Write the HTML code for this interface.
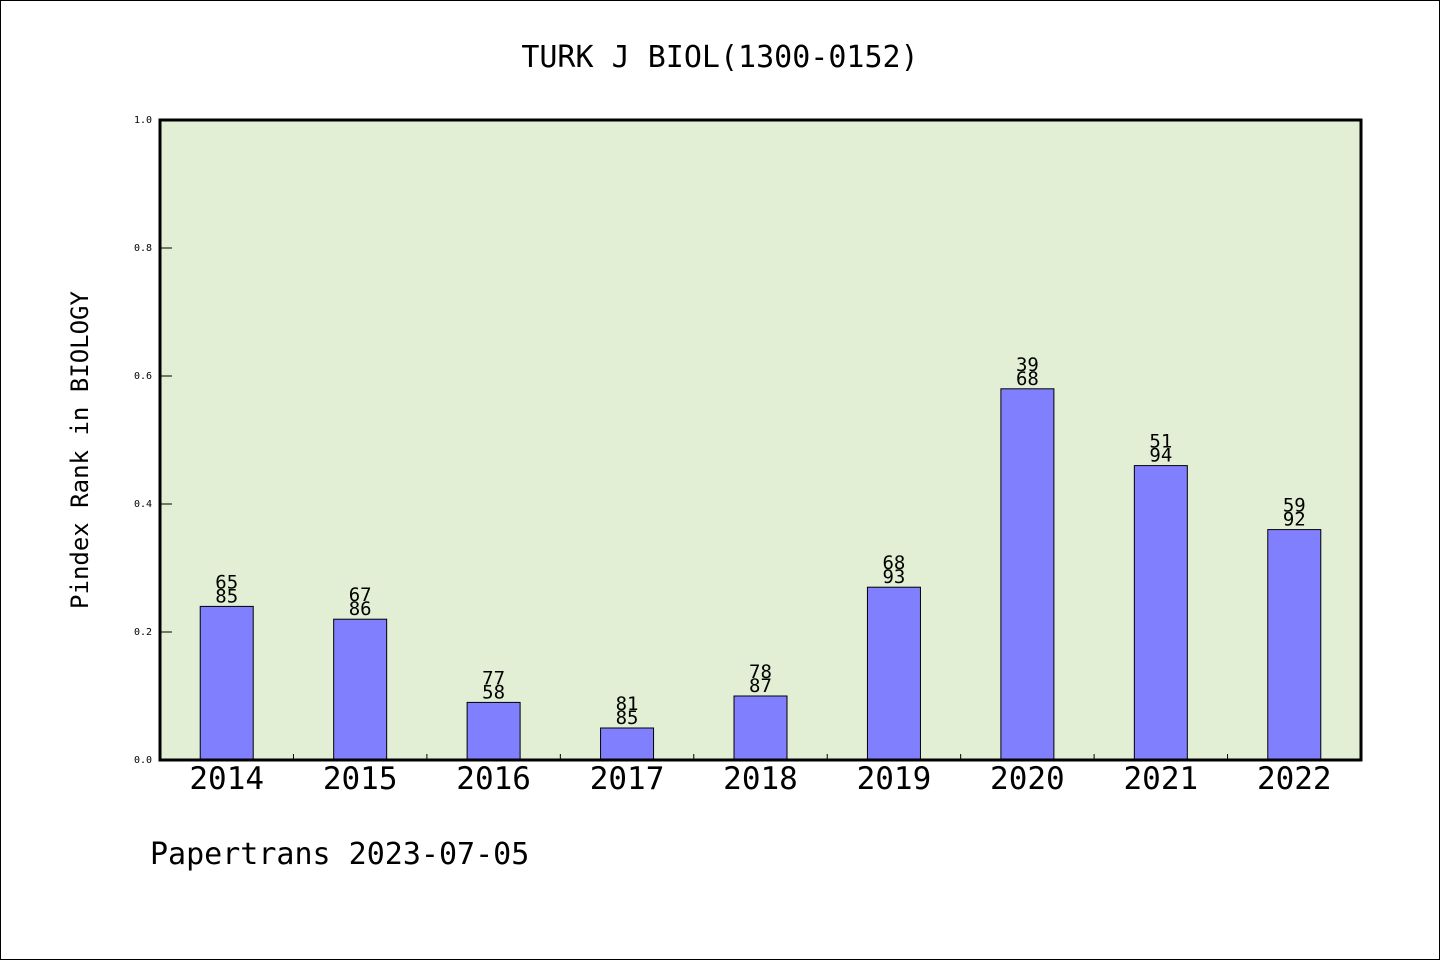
<!DOCTYPE html>
<html><head><meta charset="utf-8"><style>
body{margin:0;background:#fff}
svg text{font-family:"WenQuanYi Zen Hei","DejaVu Sans Mono",monospace}
</style></head><body>
<svg width="1440" height="960">
<rect x="0.5" y="0.5" width="1439" height="959" fill="#fff" stroke="#000"/>
<text x="720" y="67" font-size="30" text-anchor="middle">TURK J BIOL(1300-0152)</text>
<rect x="160" y="120" width="1201" height="640" fill="#e2efd5"/>
<g id="g"></g>
<rect x="160" y="120" width="1201" height="640" fill="none" stroke="#000" stroke-width="3"/>
<text transform="translate(88,450) rotate(-90)" font-size="24" text-anchor="middle">Pindex Rank in BIOLOGY</text>
<text x="150" y="864" font-size="30">Papertrans 2023-07-05</text>
</svg>
<script>
const years=["2014","2015","2016","2017","2018","2019","2020","2021","2022"];
const values=[0.24,0.22,0.09,0.05,0.10,0.27,0.58,0.46,0.36];
const topLabels=["65","67","77","81","78","68","39","51","59"];
const bottomLabels=["85","86","58","85","87","93","68","94","92"];
const yTicks=[0,0.2,0.4,0.6,0.8,1.0];
const NS="http://www.w3.org/2000/svg",g=document.getElementById('g');
const x0=160,w=1201,y0=760,h=640,band=w/years.length;
const y=v=>y0-v*h;
function mk(t,a){const e=document.createElementNS(NS,t);for(const k in a)e.setAttribute(k,a[k]);g.appendChild(e);return e;}
yTicks.forEach(t=>{
 const l=mk('line',{x1:x0,x2:x0+12,y1:y(t),y2:y(t),stroke:'#000'});
 
 
 const tx=mk('text',{x:152,y:y(t)+3,'font-size':10,'text-anchor':'end'});
 tx.textContent=t.toFixed(1);
 
 
});
years.forEach((yr,i)=>{
 const c=x0+band*(i+0.5),bw=53;
 if(i>0){const t=mk('line',{x1:x0+band*i,x2:x0+band*i,y1:y0,y2:y0-6,stroke:'#000'});
 
 }
 const r=mk('rect',{x:c-bw/2,y:y(values[i]),width:bw,height:values[i]*h,fill:'#8080ff',stroke:'#000','stroke-width':1});
 
 
 const a=mk('text',{x:c,y:y(values[i])-18,'font-size':19,'text-anchor':'middle'});a.textContent=topLabels[i];
 
 
 const b=mk('text',{x:c,y:y(values[i])-4,'font-size':19,'text-anchor':'middle'});b.textContent=bottomLabels[i];
 
 
 const xl=mk('text',{x:c,y:789,'font-size':31,'text-anchor':'middle'});xl.textContent=yr;
 
 
});
</script>
</body></html>
